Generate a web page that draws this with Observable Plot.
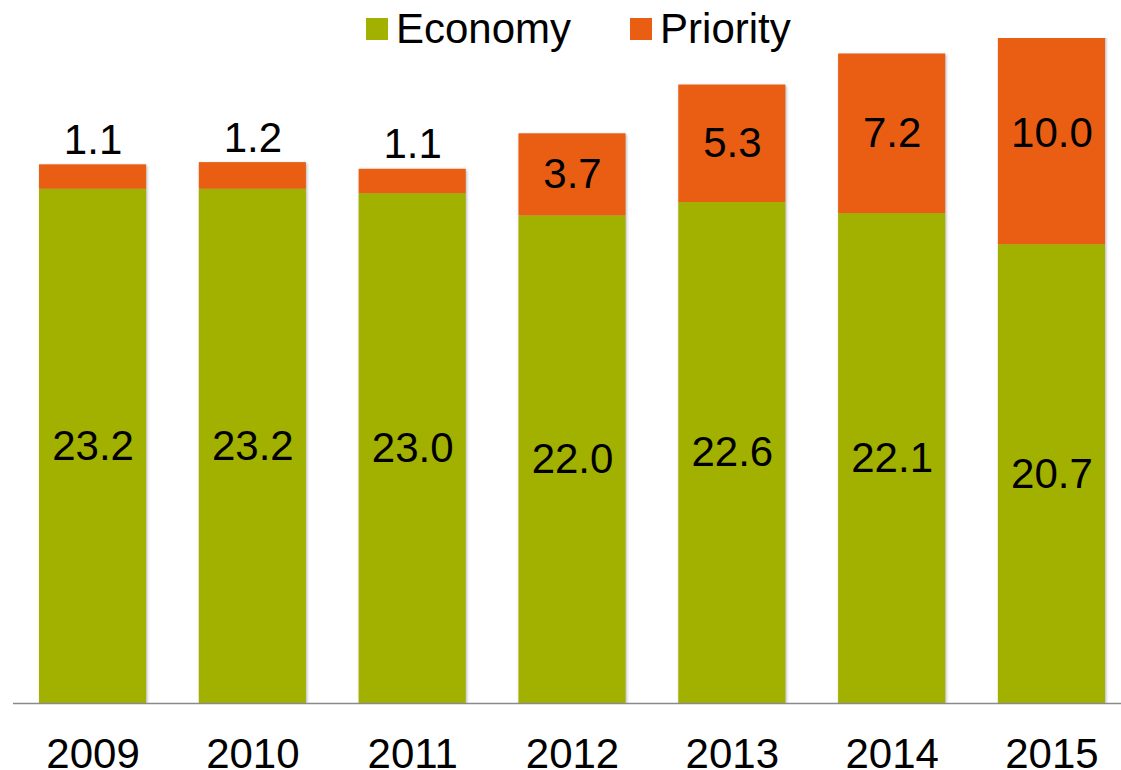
<!DOCTYPE html>
<html>
<head>
<meta charset="utf-8">
<script src="https://cdn.jsdelivr.net/npm/d3@7"></script>
<script src="https://cdn.jsdelivr.net/npm/@observablehq/plot@0.6"></script>
<style>
  html, body { margin: 0; padding: 0; background: #fff; }
  #chart { position: relative; width: 1121px; height: 770px; font-family: "Liberation Sans", Arial, sans-serif; }
  #chart svg { position: absolute; left: 0; top: 0; }
  #legend { position: absolute; top: 8px; left: 366px; display: flex; font-size: 42px; line-height: 42px; color: #000; z-index: 2; }
  .item { display: flex; align-items: center; height: 42px; margin-right: 59px; white-space: nowrap; }
  .sw { width: 22px; height: 22px; margin-right: 8px; flex: none; }
</style>
</head>
<body>
<div id="chart"></div>
<script>
const years = ["2009", "2010", "2011", "2012", "2013", "2014", "2015"];
const economy = [23.2, 23.2, 23.0, 22.0, 22.6, 22.1, 20.7];
const priority = [1.1, 1.2, 1.1, 3.7, 5.3, 7.2, 10.0];
const series = ["Economy", "Priority"];
const colors = ["#A2B000", "#E95E13"];
const yDomain = [0, 30];

// Build stacked rows from the arrays
const rows = [];
years.forEach((yr, i) => {
  rows.push({year: yr, series: series[0], value: economy[i], y1: 0, y2: economy[i]});
  rows.push({year: yr, series: series[1], value: priority[i], y1: economy[i], y2: economy[i] + priority[i]});
});
rows.forEach(d => { d.mid = (d.y1 + d.y2) / 2; d.label = d.value.toFixed(1); });
const smallLimit = 2;
const inside = rows.filter(d => !(d.series === "Priority" && d.value < smallLimit));
const above = rows.filter(d => d.series === "Priority" && d.value < smallLimit);

const plot = Plot.plot({
  width: 1121,
  height: 770,
  marginTop: 38,
  marginBottom: 67,
  marginLeft: 13,
  marginRight: 0,
  style: {fontFamily: "'Liberation Sans', Arial, sans-serif", fontSize: "42px", color: "#000", background: "transparent", overflow: "visible"},
  x: {domain: years, range: [39, 1105], paddingInner: 0.33, paddingOuter: 0, round: false, label: null},
  y: {domain: yDomain, axis: null},
  color: {domain: series, range: colors},
  marks: [
    Plot.barY(rows, {x: "year", y1: "y1", y2: "y2", fill: "series", clip: true}),
    Plot.ruleY([0], {stroke: "#8a8a8a", strokeWidth: 1.4}),
    Plot.axisX({tickSize: 0, tickPadding: 35, fontSize: 42, label: null}),
    Plot.text(inside, {x: "year", y: "mid", text: "label", fill: "#000", fontSize: 42}),
    Plot.text(above, {x: "year", y: "y2", text: "label", fill: "#000", fontSize: 42, lineAnchor: "bottom", dy: -11})
  ]
});

plot.querySelectorAll('g[aria-label="bar"]').forEach(g => {
  g.style.filter = "drop-shadow(1px 1px 1.5px rgba(0,0,0,0.3))";
});

const chart = document.getElementById("chart");
chart.appendChild(plot);

// HTML legend built from the series arrays
const legend = document.createElement("div");
legend.id = "legend";
series.forEach((s, i) => {
  const item = document.createElement("div");
  item.className = "item";
  const sw = document.createElement("div");
  sw.className = "sw";
  sw.style.background = colors[i];
  const t = document.createElement("span");
  t.textContent = s;
  item.appendChild(sw);
  item.appendChild(t);
  legend.appendChild(item);
});
chart.appendChild(legend);
</script>
</body>
</html>
